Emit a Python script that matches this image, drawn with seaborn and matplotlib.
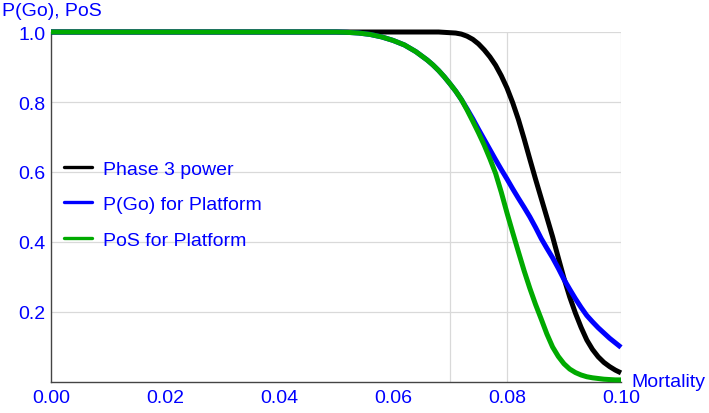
import numpy as np
import pandas as pd
import seaborn as sns
import matplotlib.pyplot as plt
from matplotlib.lines import Line2D
from matplotlib.ticker import MultipleLocator

# Values
mortality = [0.00, 0.01, 0.02, 0.03, 0.04, 0.05,
             0.052, 0.054, 0.056, 0.058, 0.060, 0.062, 0.064,
             0.066, 0.067, 0.068, 0.069, 0.070, 0.071, 0.072, 0.073, 0.074, 0.075,
             0.076, 0.077, 0.078, 0.079, 0.080, 0.081, 0.082, 0.083, 0.084, 0.085,
             0.086, 0.087, 0.088, 0.089, 0.090, 0.091, 0.092, 0.093, 0.094, 0.095,
             0.096, 0.097, 0.098, 0.099, 0.100]

phase3_power = [1.0, 1.0, 1.0, 1.0, 1.0, 1.0,
                1.0, 1.0, 1.0, 1.0, 1.0, 1.0, 1.0,
                1.0, 1.0, 1.0, 0.999, 0.998, 0.997, 0.994, 0.988, 0.979, 0.966,
                0.949, 0.929, 0.905, 0.875, 0.840, 0.798, 0.750, 0.695, 0.637, 0.580,
                0.525, 0.470, 0.415, 0.355, 0.296, 0.243, 0.197, 0.156, 0.120, 0.093,
                0.072, 0.056, 0.044, 0.034, 0.026]

pgo_platform = [1.0, 1.0, 1.0, 1.0, 1.0, 1.0,
                0.999, 0.997, 0.993, 0.986, 0.976, 0.963, 0.944,
                0.920, 0.906, 0.890, 0.872, 0.852, 0.831, 0.807, 0.780, 0.752, 0.722,
                0.693, 0.664, 0.635, 0.607, 0.580, 0.552, 0.525, 0.499, 0.472, 0.442,
                0.410, 0.382, 0.355, 0.325, 0.293, 0.265, 0.238, 0.213, 0.190, 0.172,
                0.155, 0.140, 0.125, 0.112, 0.099]

pos_platform = [1.0, 1.0, 1.0, 1.0, 1.0, 1.0,
                0.999, 0.997, 0.993, 0.986, 0.976, 0.963, 0.944,
                0.920, 0.906, 0.890, 0.872, 0.852, 0.831, 0.807, 0.777, 0.745, 0.712,
                0.677, 0.638, 0.596, 0.542, 0.483, 0.427, 0.372, 0.318, 0.268, 0.222,
                0.180, 0.137, 0.100, 0.073, 0.052, 0.037, 0.027, 0.020, 0.015, 0.012,
                0.010, 0.008, 0.007, 0.006, 0.006]

series_names = ["Phase 3 power", "P(Go) for Platform", "PoS for Platform"]
series_colors = ["#000000", "#0000ff", "#00aa00"]

df = pd.DataFrame({
    "Mortality": mortality * 3,
    "Value": phase3_power + pgo_platform + pos_platform,
    "Series": np.repeat(series_names, len(mortality)),
})

sns.set_style("white")
plt.rcParams["font.family"] = ["Liberation Sans", "DejaVu Sans"]
fs = 14

fig = plt.figure(figsize=(7.09, 4.14), dpi=100)
ax = fig.add_axes([51 / 709, 31 / 414, 570 / 709, 350 / 414])

# grid lines (only a few vertical ones, like the original)
for gy in [0.2, 0.4, 0.6, 0.8, 1.0]:
    ax.axhline(gy, color="#d9d9d9", lw=0.9, zorder=0)
for gx in [0.07, 0.08, 0.10]:
    ax.axvline(gx, color="#d9d9d9", lw=0.9, zorder=0)

sns.lineplot(data=df, x="Mortality", y="Value", hue="Series",
             palette=series_colors, hue_order=series_names,
             lw=3.6, legend=False, ax=ax, clip_on=False, zorder=3)
for line in ax.lines:
    line.set_solid_capstyle("butt")
    line.set_solid_joinstyle("round")

ax.set_xlim(0, 0.1)
ax.set_ylim(0, 1.0)
ax.set_xlabel("")
ax.set_ylabel("")

ax.xaxis.set_major_locator(MultipleLocator(0.02))
ax.xaxis.set_minor_locator(MultipleLocator(0.005))
ax.yaxis.set_minor_locator(MultipleLocator(0.05))
ax.set_xticks([0.0, 0.02, 0.04, 0.06, 0.08, 0.10])
ax.set_xticklabels(["0.00", "0.02", "0.04", "0.06", "0.08", "0.10"])
ax.set_yticks([0.2, 0.4, 0.6, 0.8, 1.0])
ax.set_yticklabels(["0.2", "0.4", "0.6", "0.8", "1.0"])

ax.tick_params(axis="both", which="both", direction="in", colors="#444444",
               labelcolor="#0000ff", labelsize=fs)
ax.tick_params(axis="both", which="major", length=4.5, width=0.9)
ax.tick_params(axis="both", which="minor", length=2.2, width=0.9)
ax.tick_params(axis="x", pad=5)
ax.tick_params(axis="y", pad=4)

for side in ["top", "right"]:
    ax.spines[side].set_visible(False)
for side in ["left", "bottom"]:
    ax.spines[side].set_color("#444444")
    ax.spines[side].set_linewidth(1.0)

handles = [Line2D([0], [0], color=c, lw=2.4) for c in series_colors]
leg = ax.legend(handles, series_names, loc="center left",
                bbox_to_anchor=(0.023, 0.508), frameon=False,
                handlelength=1.45, handletextpad=0.55, labelspacing=0.92,
                borderpad=0, borderaxespad=0, fontsize=fs)
for t in leg.get_texts():
    t.set_color("#0000ff")

ax.text(1.019, 0.0, "Mortality", transform=ax.transAxes, color="#0000ff",
        fontsize=fs, ha="left", va="center")
fig.text(2 / 709, 1 - 12 / 414, "P(Go), PoS", color="#0000ff",
         fontsize=fs, ha="left", va="center")

fig.savefig("out.png", dpi=100)
